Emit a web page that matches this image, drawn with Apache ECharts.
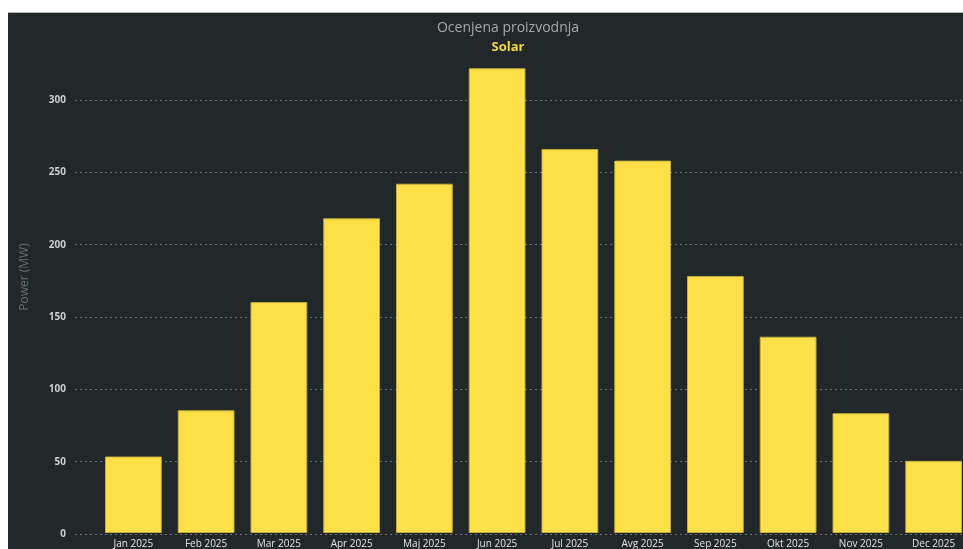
<!DOCTYPE html>
<html>
<head>
<meta charset="utf-8">
<script src="https://cdn.jsdelivr.net/npm/echarts@6/dist/echarts.min.js"></script>
<style>
  html, body { margin: 0; padding: 0; background: #ffffff; overflow: hidden; width: 963px; height: 549px; }
  #wrap { position: absolute; left: 8px; top: 12px; width: 955px; height: 537px; overflow: hidden; background: #22272a; border-top: 1px solid #b8b8b8; box-sizing: border-box; }
  #c { position: absolute; left: 0; top: -1px; width: 962px; height: 537px; }
</style>
</head>
<body>
<div id="wrap"><div id="c"></div></div>
<script>
const categories = ['Jan 2025','Feb 2025','Mar 2025','Apr 2025','Maj 2025','Jun 2025','Jul 2025','Avg 2025','Sep 2025','Okt 2025','Nov 2025','Dec 2025'];
const solarValues = [53, 85, 160, 218, 242, 322, 266, 258, 178, 136, 83, 50];
const yTicks = [0, 50, 100, 150, 200, 250, 300];
const titleText = 'Ocenjena proizvodnja';
const subtitleText = 'Solar';
const yAxisName = 'Power (MW)';

const chart = echarts.init(document.getElementById('c'), null, { renderer: 'canvas' });
const font = '"Open Sans", "Noto Sans", sans-serif';
const option = {
  backgroundColor: '#22272a',
  animation: false,
  title: {
    text: titleText,
    subtext: subtitleText,
    left: 495,
    top: 4,
    textAlign: 'center',
    itemGap: 6,
    textStyle: { color: '#a8a8a8', fontSize: 14, fontWeight: 'normal', fontFamily: font },
    subtextStyle: { color: '#f0d84a', fontSize: 13, fontWeight: 'bold', fontFamily: font }
  },
  grid: [
    { left: 67, right: 0, top: 88, bottom: 15 },
    { left: 89, right: 0, top: 88, bottom: 15 }
  ],
  xAxis: [
    { type: 'category', gridIndex: 0, data: categories, show: false },
    {
      type: 'category', gridIndex: 1, data: categories,
      axisLine: { show: false }, axisTick: { show: false },
      axisLabel: { color: '#e2e2e2', fontSize: 10, fontFamily: font, margin: 6, interval: 0 }
    }
  ],
  yAxis: [
    {
      type: 'value', gridIndex: 0, min: yTicks[0], max: yTicks[yTicks.length - 1], interval: 50,
      axisLine: { show: false }, axisTick: { show: false },
      axisLabel: { color: '#cfcfcf', fontSize: 10, fontWeight: 'bold', fontFamily: font, margin: 9 },
      splitLine: { show: true, lineStyle: { color: '#6a6e70', type: [2, 3], width: 1 } }
    },
    {
      type: 'value', gridIndex: 1, min: yTicks[0], max: yTicks[yTicks.length - 1], interval: 50,
      show: false, splitLine: { show: false }
    }
  ],
  graphic: [
    {
      type: 'text', x: 17, y: 265, rotation: Math.PI / 2,
      style: { text: yAxisName, fill: '#6a6e70', fontSize: 12, fontFamily: font, align: 'center', verticalAlign: 'middle' }
    }
  ],
  series: [
    {
      type: 'bar', name: subtitleText, xAxisIndex: 1, yAxisIndex: 1,
      data: solarValues, barWidth: '78%', clip: false,
      itemStyle: { color: '#fde047', borderColor: '#c2ad3c', borderWidth: 1 }
    }
  ]
};
chart.setOption(option);
</script>
</body>
</html>
